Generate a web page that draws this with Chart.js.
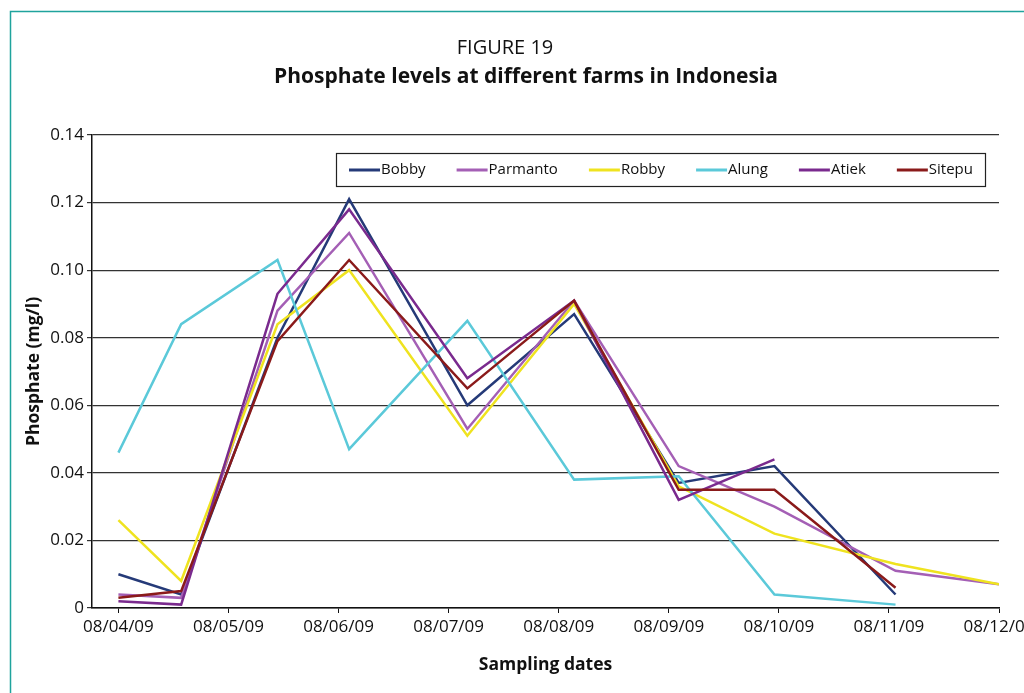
<!DOCTYPE html>
<html>
<head>
<meta charset="utf-8">
<title>Phosphate levels</title>
<script src="https://cdn.jsdelivr.net/npm/chart.js@4.4.0/dist/chart.umd.min.js"></script>
<style>
    html, body { margin: 0; padding: 0; background: #fff; }
    #wrap { position: relative; width: 1024px; height: 693px; }
</style>
</head>
<body>
<div id="wrap"><canvas id="phosphateCanvas"></canvas></div>
<script>
// 采样日期刻度
const tickLabels = ['08/04/09', '08/05/09', '08/06/09', '08/07/09', '08/08/09',
                    '08/09/09', '08/10/09', '08/11/09', '08/12/09'];
// 采样时间 (以月为单位, 0 = 08/04/09)
const sampleMonths = [0, 0.57, 1.445, 2.096, 3.17, 4.14, 5.09, 5.96, 7.06, 8.0];

const farmNames = ['Bobby', 'Parmanto', 'Robby', 'Alung', 'Atiek', 'Sitepu'];
const bobby    = [0.010, 0.004, 0.080, 0.121, 0.060, 0.087, 0.037, 0.042, 0.004, null];
const parmanto = [0.004, 0.003, 0.088, 0.111, 0.053, 0.091, 0.042, 0.030, 0.011, 0.007];
const robby    = [0.026, 0.008, 0.084, 0.100, 0.051, 0.090, 0.036, 0.022, 0.013, 0.007];
const alung    = [0.046, 0.084, 0.103, 0.047, 0.085, 0.038, 0.039, 0.004, 0.001, null];
const atiek    = [0.002, 0.001, 0.093, 0.118, 0.068, 0.091, 0.032, 0.044, null, null];
const sitepu   = [0.003, 0.005, 0.079, 0.103, 0.065, 0.091, 0.035, 0.035, 0.006, null];

const farmColors = ['#253a78', '#a45fb5', '#efe31f', '#5bc9d9', '#7a2a8e', '#8a1a1a'];
const seriesList = [bobby, parmanto, robby, alung, atiek, sitepu];

const figureLabel = 'FIGURE 19';
const chartTitle = 'Phosphate levels at different farms in Indonesia';

const fontFamily = '"Open Sans", "Noto Sans", sans-serif';

function toPoints(values) {
    const pts = [];
    values.forEach((v, i) => {
        if (v !== null) pts.push({ x: sampleMonths[i], y: v });
    });
    return pts;
}

// 外框 + 标题
const framePlugin = {
    id: 'frame',
    beforeDraw(chart, args, opts) {
        const ctx = chart.ctx;
        ctx.save();
        ctx.strokeStyle = '#1fa39d';
        ctx.lineWidth = 1.5;
        ctx.beginPath();
        ctx.moveTo(10.5, chart.height);
        ctx.lineTo(10.5, 11.5);
        ctx.lineTo(chart.width, 11.5);
        ctx.stroke();

        ctx.fillStyle = '#111';
        ctx.textAlign = 'center';
        ctx.textBaseline = 'middle';
        ctx.font = '20px ' + fontFamily;
        ctx.fillText(opts.figure, 505, 48);
        ctx.font = 'bold 21px ' + fontFamily;
        ctx.fillText(opts.title, 526, 77);
        ctx.restore();
    }
};

// 图内图例
const boxLegendPlugin = {
    id: 'boxLegend',
    afterDraw(chart, args, opts) {
        const ctx = chart.ctx;
        const left = opts.left, right = opts.right, top = opts.top, bottom = opts.bottom;
        ctx.save();
        ctx.fillStyle = '#fff';
        ctx.fillRect(left, top, right - left, bottom - top);
        ctx.strokeStyle = '#222';
        ctx.lineWidth = 1.2;
        ctx.strokeRect(left + 0.5, top + 0.5, right - left, bottom - top);

        ctx.font = opts.fontSize + 'px ' + fontFamily;
        ctx.textBaseline = 'middle';
        const datasets = chart.data.datasets;
        const widths = datasets.map(ds => opts.lineLen + ctx.measureText(ds.label).width);
        const total = widths.reduce((s, w) => s + w, 0);
        const gap = (opts.itemsRight - opts.itemsLeft - total) / (datasets.length - 1);
        const cy = (top + bottom) / 2 + 0.5;
        let x = opts.itemsLeft;
        datasets.forEach((ds, i) => {
            ctx.strokeStyle = ds.borderColor;
            ctx.lineWidth = 3;
            ctx.beginPath();
            ctx.moveTo(x, cy);
            ctx.lineTo(x + opts.lineLen, cy);
            ctx.stroke();
            ctx.fillStyle = '#111';
            ctx.fillText(ds.label, x + opts.lineLen + 1, cy);
            x += widths[i] + gap;
        });
        ctx.restore();
    }
};

function drawPhosphateChart() {
    const ctx = document.getElementById('phosphateCanvas').getContext('2d');

    const datasets = farmNames.map((name, i) => ({
        label: name,
        data: toPoints(seriesList[i]),
        borderColor: farmColors[i],
        backgroundColor: farmColors[i],
        borderWidth: 2.5,
        pointRadius: 0,
        tension: 0,
        fill: false,
        order: farmNames.length - i
    }));

    new Chart(ctx, {
        type: 'line',
        data: { datasets: datasets },
        plugins: [framePlugin, boxLegendPlugin],
        options: {
            responsive: true,
            maintainAspectRatio: false,
            animation: false,
            layout: { padding: { left: 0, right: 25, top: 135, bottom: 0 } },
            plugins: {
                legend: { display: false },
                tooltip: { enabled: false },
                frame: { figure: figureLabel, title: chartTitle },
                boxLegend: {
                    left: 336, right: 985, top: 153, bottom: 186,
                    itemsLeft: 349, itemsRight: 972,
                    lineLen: 31, fontSize: 15
                }
            },
            scales: {
                x: {
                    type: 'linear',
                    min: -0.24,
                    max: 8,
                    afterBuildTicks: axis => {
                        axis.ticks = tickLabels.map((t, i) => ({ value: i }));
                    },
                    afterFit: axis => {
                        axis.height = 85;
                        axis.paddingLeft = 0;
                        axis.paddingRight = 0;
                    },
                    ticks: {
                        autoSkip: false,
                        maxRotation: 0,
                        padding: 4,
                        color: '#111',
                        font: { family: fontFamily, size: 17 },
                        callback: value => tickLabels[value]
                    },
                    grid: {
                        drawOnChartArea: false,
                        drawTicks: true,
                        tickLength: 5,
                        color: '#111'
                    },
                    border: { color: '#111', width: 1.5 },
                    title: {
                        display: true,
                        text: 'Sampling dates',
                        color: '#111',
                        font: { family: fontFamily, size: 17.5, weight: 'bold' },
                        padding: { top: 0, bottom: 17 }
                    }
                },
                y: {
                    min: 0,
                    max: 0.14,
                    afterFit: axis => {
                        axis.width = 92;
                    },
                    ticks: {
                        stepSize: 0.02,
                        padding: 3,
                        color: '#111',
                        font: { family: fontFamily, size: 17 },
                        callback: value => value === 0 ? '0' : value.toFixed(2)
                    },
                    grid: {
                        color: '#333',
                        lineWidth: 1.2,
                        tickLength: 5
                    },
                    border: { color: '#111', width: 1.5 },
                    title: {
                        display: true,
                        text: 'Phosphate (mg/l)',
                        color: '#111',
                        font: { family: fontFamily, size: 17.5, weight: 'bold' },
                        padding: { top: 24, bottom: 0 }
                    }
                }
            }
        }
    });
}

drawPhosphateChart();
</script>
</body>
</html>
